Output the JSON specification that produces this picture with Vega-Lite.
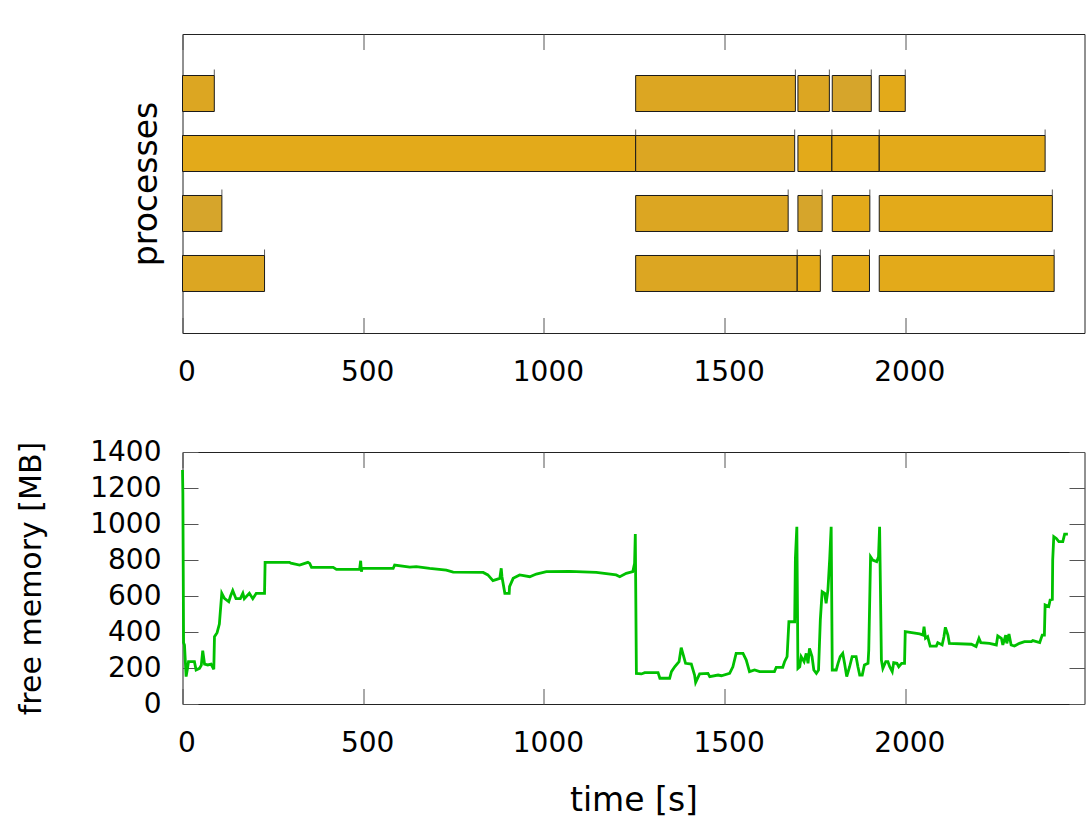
{
  "$schema": "https://vega.github.io/schema/vega-lite/v6.json",
  "padding": {"left": 15.5, "top": 33, "right": 1, "bottom": 5},
  "background": "white",
  "config": {
    "font": "DejaVu Sans",
    "view": {"stroke": "#222222", "strokeWidth": 1},
    "axis": {
      "domain": false, "grid": false,
      "tickColor": "#555555", "tickWidth": 1, "tickSize": 15.5,
      "labelFont": "DejaVu Sans", "labelFontSize": 28, "labelColor": "#000000",
      "titleFont": "DejaVu Sans", "titleFontSize": 33, "titleFontWeight": "normal", "titleColor": "#000000"
    }
  },
  "spacing": 50,
  "vconcat": [
    {
      "width": 902,
      "height": 299,
      "data": {"values": [
        {"proc": 1, "start": 0, "end": 88, "shade": "b"},
        {"proc": 1, "start": 1254, "end": 1696, "shade": "b"},
        {"proc": 1, "start": 1703, "end": 1790, "shade": "b"},
        {"proc": 1, "start": 1798, "end": 1906, "shade": "c"},
        {"proc": 1, "start": 1928, "end": 2000, "shade": "a"},
        {"proc": 2, "start": 0, "end": 1254, "shade": "a"},
        {"proc": 2, "start": 1254, "end": 1694, "shade": "b"},
        {"proc": 2, "start": 1703, "end": 1797, "shade": "a"},
        {"proc": 2, "start": 1797, "end": 1928, "shade": "a"},
        {"proc": 2, "start": 1928, "end": 2387, "shade": "a"},
        {"proc": 3, "start": 0, "end": 109, "shade": "c"},
        {"proc": 3, "start": 1254, "end": 1676, "shade": "b"},
        {"proc": 3, "start": 1703, "end": 1770, "shade": "c"},
        {"proc": 3, "start": 1798, "end": 1902, "shade": "a"},
        {"proc": 3, "start": 1928, "end": 2407, "shade": "a"},
        {"proc": 4, "start": 0, "end": 227, "shade": "b"},
        {"proc": 4, "start": 1254, "end": 1701, "shade": "b"},
        {"proc": 4, "start": 1701, "end": 1765, "shade": "a"},
        {"proc": 4, "start": 1798, "end": 1901, "shade": "a"},
        {"proc": 4, "start": 1928, "end": 2412, "shade": "a"}
      ]},
      "layer": [
        {
          "mark": {"type": "bar", "stroke": "#1a1a1a", "strokeWidth": 1},
          "encoding": {
            "x": {"field": "start", "type": "quantitative",
                  "scale": {"domain": [0, 2496], "nice": false, "zero": false},
                  "axis": {"values": [0, 500, 1000, 1500, 2000], "format": "d", "offset": -15.5, "labelPadding": 25, "labelOffset": 4, "labelFlush": false, "title": null}},
            "x2": {"field": "end"},
            "y": {"field": "proc", "type": "ordinal",
                  "scale": {"paddingInner": 0.4, "paddingOuter": 0.692},
                  "axis": {"title": "processes", "labels": false, "ticks": false, "titlePadding": 19}},
            "color": {"field": "shade", "type": "nominal",
                      "scale": {"domain": ["a", "b", "c"], "range": ["#e3aa1a", "#dca622", "#d6a52b"]},
                      "legend": null}
          }
        },
        {
          "mark": {"type": "tick", "color": "#1a1a1a", "size": 6, "thickness": 1, "yOffset": -21},
          "encoding": {
            "x": {"field": "end", "type": "quantitative",
                  "axis": {"orient": "top", "values": [0, 500, 1000, 1500, 2000], "offset": -15.5, "labels": false, "title": null}},
            "y": {"field": "proc", "type": "ordinal"}
          }
        }
      ],
      "resolve": {"axis": {"x": "independent"}}
    },
    {
      "width": 902,
      "height": 252,
      "data": {"values": [
        {"t": 0, "m": 1300}, {"t": 1, "m": 1170}, {"t": 3, "m": 340}, {"t": 5.5, "m": 328},
        {"t": 10, "m": 152}, {"t": 14, "m": 200}, {"t": 16.6, "m": 235}, {"t": 33, "m": 235},
        {"t": 37.6, "m": 189}, {"t": 47, "m": 198}, {"t": 52, "m": 215}, {"t": 56, "m": 296},
        {"t": 61, "m": 222}, {"t": 70, "m": 217}, {"t": 79, "m": 222}, {"t": 86.6, "m": 193},
        {"t": 88.5, "m": 374}, {"t": 95.7, "m": 396}, {"t": 102, "m": 444}, {"t": 108.7, "m": 615},
        {"t": 116, "m": 587}, {"t": 128, "m": 568}, {"t": 133, "m": 600}, {"t": 139, "m": 630},
        {"t": 148, "m": 585}, {"t": 160, "m": 585}, {"t": 167, "m": 615}, {"t": 171, "m": 585},
        {"t": 185, "m": 615}, {"t": 194.5, "m": 585}, {"t": 204, "m": 615}, {"t": 227, "m": 615},
        {"t": 228.6, "m": 787}, {"t": 296, "m": 787}, {"t": 300, "m": 782}, {"t": 324, "m": 772},
        {"t": 347, "m": 787}, {"t": 352, "m": 781}, {"t": 357, "m": 759}, {"t": 417, "m": 759},
        {"t": 426, "m": 748}, {"t": 490, "m": 748}, {"t": 493, "m": 796}, {"t": 495, "m": 735},
        {"t": 497, "m": 753}, {"t": 583, "m": 753}, {"t": 587, "m": 772}, {"t": 629, "m": 760},
        {"t": 647, "m": 763}, {"t": 684, "m": 753}, {"t": 730, "m": 744}, {"t": 749, "m": 733},
        {"t": 832, "m": 731}, {"t": 845, "m": 717}, {"t": 859, "m": 685}, {"t": 878, "m": 698},
        {"t": 882, "m": 754}, {"t": 884, "m": 707}, {"t": 892, "m": 615}, {"t": 904, "m": 615},
        {"t": 905, "m": 652}, {"t": 915, "m": 698}, {"t": 933, "m": 717}, {"t": 961, "m": 707},
        {"t": 979, "m": 722}, {"t": 1007, "m": 735}, {"t": 1071, "m": 737}, {"t": 1145, "m": 731},
        {"t": 1200, "m": 717}, {"t": 1210, "m": 707}, {"t": 1228, "m": 726}, {"t": 1246, "m": 735},
        {"t": 1251, "m": 781}, {"t": 1253, "m": 944}, {"t": 1256, "m": 170}, {"t": 1270, "m": 167},
        {"t": 1279, "m": 174}, {"t": 1316, "m": 174}, {"t": 1321, "m": 143}, {"t": 1348, "m": 143},
        {"t": 1353, "m": 180}, {"t": 1362, "m": 207}, {"t": 1374, "m": 235}, {"t": 1380, "m": 313},
        {"t": 1387, "m": 263}, {"t": 1392, "m": 226}, {"t": 1408, "m": 222}, {"t": 1417, "m": 161},
        {"t": 1420, "m": 120}, {"t": 1431, "m": 167}, {"t": 1454, "m": 170}, {"t": 1459, "m": 152},
        {"t": 1482, "m": 161}, {"t": 1491, "m": 157}, {"t": 1514, "m": 170}, {"t": 1523, "m": 207},
        {"t": 1532, "m": 281}, {"t": 1551, "m": 281}, {"t": 1560, "m": 244}, {"t": 1569, "m": 180},
        {"t": 1583, "m": 189}, {"t": 1597, "m": 180}, {"t": 1638, "m": 180}, {"t": 1643, "m": 204},
        {"t": 1661, "m": 204}, {"t": 1666, "m": 235}, {"t": 1673, "m": 263}, {"t": 1678, "m": 457},
        {"t": 1694, "m": 457}, {"t": 1696, "m": 809}, {"t": 1700, "m": 985}, {"t": 1703, "m": 198},
        {"t": 1708, "m": 207}, {"t": 1712, "m": 263}, {"t": 1720, "m": 235}, {"t": 1726, "m": 281},
        {"t": 1731, "m": 226}, {"t": 1735, "m": 309}, {"t": 1742, "m": 263}, {"t": 1747, "m": 189},
        {"t": 1754, "m": 170}, {"t": 1760, "m": 189}, {"t": 1765, "m": 467}, {"t": 1770, "m": 624},
        {"t": 1777, "m": 615}, {"t": 1781, "m": 559}, {"t": 1786, "m": 633}, {"t": 1791, "m": 809},
        {"t": 1795, "m": 985}, {"t": 1798, "m": 189}, {"t": 1809, "m": 189}, {"t": 1814, "m": 226},
        {"t": 1820, "m": 263}, {"t": 1827, "m": 281}, {"t": 1832, "m": 226}, {"t": 1838, "m": 152},
        {"t": 1846, "m": 207}, {"t": 1853, "m": 263}, {"t": 1864, "m": 263}, {"t": 1869, "m": 207},
        {"t": 1874, "m": 161}, {"t": 1881, "m": 161}, {"t": 1887, "m": 217}, {"t": 1897, "m": 226},
        {"t": 1899, "m": 300}, {"t": 1904, "m": 818}, {"t": 1910, "m": 800}, {"t": 1921, "m": 791},
        {"t": 1926, "m": 818}, {"t": 1929, "m": 985}, {"t": 1934, "m": 244}, {"t": 1938, "m": 198},
        {"t": 1946, "m": 235}, {"t": 1952, "m": 235}, {"t": 1957, "m": 207}, {"t": 1964, "m": 180},
        {"t": 1968, "m": 230}, {"t": 1977, "m": 226}, {"t": 1982, "m": 207}, {"t": 1990, "m": 226},
        {"t": 1998, "m": 226}, {"t": 2000, "m": 402}, {"t": 2040, "m": 389}, {"t": 2049, "m": 383},
        {"t": 2052, "m": 430}, {"t": 2056, "m": 365}, {"t": 2062, "m": 374}, {"t": 2069, "m": 322},
        {"t": 2086, "m": 322}, {"t": 2090, "m": 341}, {"t": 2102, "m": 328}, {"t": 2107, "m": 374},
        {"t": 2111, "m": 426}, {"t": 2118, "m": 383}, {"t": 2122, "m": 337}, {"t": 2183, "m": 332},
        {"t": 2196, "m": 319}, {"t": 2204, "m": 365}, {"t": 2209, "m": 341}, {"t": 2233, "m": 337},
        {"t": 2252, "m": 328}, {"t": 2256, "m": 378}, {"t": 2266, "m": 365}, {"t": 2270, "m": 328},
        {"t": 2278, "m": 383}, {"t": 2281, "m": 337}, {"t": 2287, "m": 389}, {"t": 2293, "m": 328},
        {"t": 2302, "m": 322}, {"t": 2316, "m": 337}, {"t": 2330, "m": 346}, {"t": 2349, "m": 346},
        {"t": 2353, "m": 352}, {"t": 2372, "m": 341}, {"t": 2379, "m": 383}, {"t": 2385, "m": 383},
        {"t": 2387, "m": 550}, {"t": 2397, "m": 541}, {"t": 2401, "m": 578}, {"t": 2407, "m": 581},
        {"t": 2408, "m": 800}, {"t": 2411, "m": 930}, {"t": 2418, "m": 920}, {"t": 2425, "m": 902},
        {"t": 2436, "m": 902}, {"t": 2441, "m": 944}, {"t": 2450, "m": 944}
      ]},
      "layer": [
        {
          "mark": {"type": "line", "color": "#00c000", "strokeWidth": 2.8},
          "encoding": {
            "x": {"field": "t", "type": "quantitative",
                  "scale": {"domain": [0, 2496], "nice": false, "zero": false},
                  "axis": {"values": [0, 500, 1000, 1500, 2000], "format": "d", "offset": -15.5, "labelPadding": 25, "labelOffset": 4, "labelFlush": false, "title": "time [s]", "titlePadding": 27}},
            "y": {"field": "m", "type": "quantitative",
                  "scale": {"domain": [0, 1400], "nice": false},
                  "axis": {"values": [0, 200, 400, 600, 800, 1000, 1200, 1400], "format": "d", "offset": -15.5, "labelPadding": 21.5, "labelFlush": false, "title": "free memory [MB]", "titleFontSize": 30, "titlePadding": 43}}
          }
        },
        {
          "mark": {"type": "line", "opacity": 0},
          "encoding": {
            "x": {"field": "t", "type": "quantitative",
                  "axis": {"orient": "top", "values": [0, 500, 1000, 1500, 2000], "offset": -15.5, "labels": false, "title": null}},
            "y": {"field": "m", "type": "quantitative",
                  "axis": {"orient": "right", "values": [0, 200, 400, 600, 800, 1000, 1200, 1400], "offset": -15.5, "labels": false, "title": null}}
          }
        }
      ],
      "resolve": {"axis": {"x": "independent", "y": "independent"}}
    }
  ]
}
